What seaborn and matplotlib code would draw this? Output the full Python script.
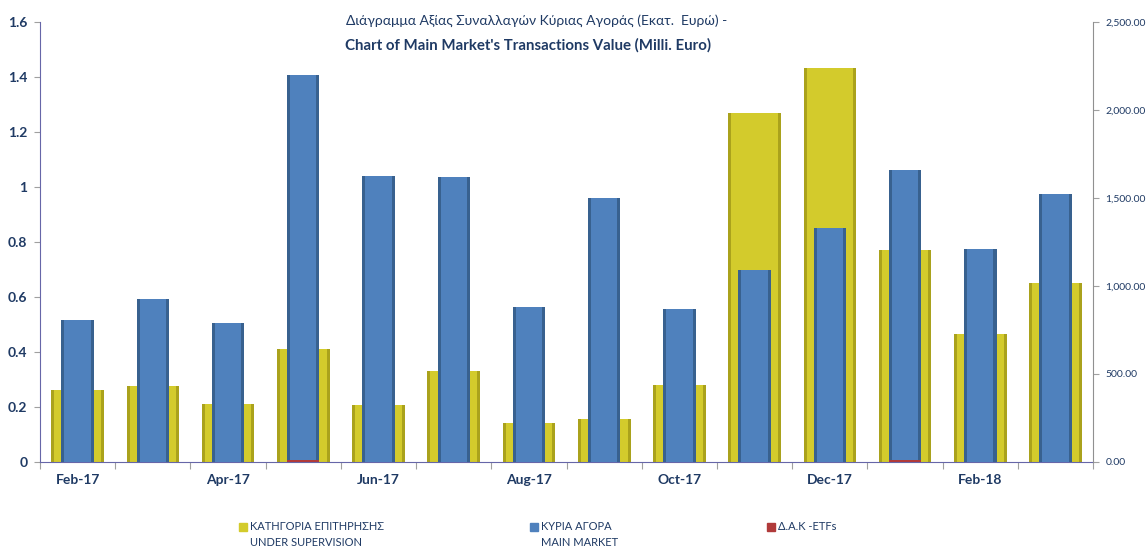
import matplotlib
matplotlib.use("Agg")
import matplotlib.pyplot as plt
from matplotlib.lines import Line2D
from matplotlib.ticker import FuncFormatter
import numpy as np
import seaborn as sns

# μήνες
months = ['Feb-17', 'Mar-17', 'Apr-17', 'May-17', 'Jun-17', 'Jul-17', 'Aug-17',
          'Sep-17', 'Oct-17', 'Nov-17', 'Dec-17', 'Jan-18', 'Feb-18', 'Mar-18']
# κατηγορία επιτήρησης (αριστερός άξονας)
supervision = [0.263, 0.275, 0.212, 0.412, 0.207, 0.331, 0.141,
               0.155, 0.279, 1.270, 1.433, 0.771, 0.466, 0.649]
# κύρια αγορά (δεξιός άξονας)
main_market = [807, 928, 787, 2198, 1625, 1618, 880,
               1497, 872, 1090, 1328, 1658, 1210, 1522]
# ETFs
etfs = [1, 1, 1, 12, 1, 1, 1, 1, 1, 1, 1, 12, 1, 1]

labels_gr = ['ΚΑΤΗΓΟΡΙΑ ΕΠΙΤΗΡΗΣΗΣ', 'ΚΥΡΙΑ ΑΓΟΡΑ', 'Δ.Α.Κ -ETFs']
labels_en = ['UNDER SUPERVISION', 'MAIN MARKET', '']

navy = '#1f3a64'
yellow = '#d3cb2c'
yellow_dark = '#aaa21c'
blue = '#4f81bd'
blue_dark = '#38618f'
red = '#b03a3a'

sns.set_style('white')
plt.rcParams['font.family'] = ['Lato', 'Open Sans', 'DejaVu Sans']

fig = plt.figure(figsize=(11.46, 5.49), dpi=100)
ax = fig.add_axes([0.0349, 0.1585, 0.919, 0.8015])
ax2 = ax.twinx()

# κίτρινες μπάρες με σκίαση στις άκρες
sns.barplot(x=months, y=supervision, order=months, ax=ax, color=yellow_dark, width=0.70,
            saturation=1, linewidth=0)
sns.barplot(x=months, y=supervision, order=months, ax=ax, color=yellow, width=0.62,
            saturation=1, linewidth=0)
# μπλε μπάρες
sns.barplot(x=months, y=main_market, order=months, ax=ax2, color=blue_dark, width=0.43,
            saturation=1, linewidth=0)
sns.barplot(x=months, y=main_market, order=months, ax=ax2, color=blue, width=0.35,
            saturation=1, linewidth=0)
sns.barplot(x=months, y=etfs, order=months, ax=ax2, color=red, width=0.43,
            saturation=1, linewidth=0)

ax.set_xlim(-0.5, len(months) - 0.5)
ax.set_ylim(0, 1.6)
ax2.set_ylim(0, 2500)
ax.set_yticks(np.arange(0, 1.61, 0.2))
ax.yaxis.set_major_formatter(FuncFormatter(lambda v, p: f'{v:.1f}'.rstrip('0').rstrip('.') if v else '0'))
ax2.set_yticks(np.arange(0, 2501, 500))
ax2.yaxis.set_major_formatter(FuncFormatter(lambda v, p: f'{v:,.2f}'))

ax.set_xticks(range(0, len(months), 2))
ax.set_xticklabels(months[::2])
ax.set_xticks(np.arange(-0.5, len(months), 1), minor=True)
ax.tick_params(axis='x', which='major', length=0, pad=9, labelsize=10, labelcolor=navy)
ax.tick_params(axis='x', which='minor', length=5, color='#a0a0a0', width=0.8, bottom=True)
ax.tick_params(axis='y', length=4, color='#a0a0a0', labelsize=10, labelcolor=navy, left=True, pad=5)
ax2.tick_params(axis='y', length=4, color='#a0a0a0', labelsize=7.5, labelcolor=navy, right=True, pad=5)
for t in ax.get_xticklabels() + ax.get_yticklabels():
    t.set_fontweight('bold')

for a in (ax, ax2):
    a.set_xlabel('')
    a.set_ylabel('')
    a.spines['top'].set_visible(False)
ax.spines['left'].set_color('#6666a8')
ax.spines['bottom'].set_color('#6666a8')
ax.spines['right'].set_visible(False)
ax2.spines['left'].set_visible(False)
ax2.spines['bottom'].set_visible(False)
ax2.spines['right'].set_color('#909090')

fig.text(0.4686, 0.962, 'Διάγραμμα Αξίας Συναλλαγών Κύριας Αγοράς (Εκατ.  Ευρώ) -',
         ha='center', va='center', fontsize=10, color=navy)
fig.text(0.4607, 0.918, "Chart of Main Market's Transactions Value (Milli. Euro)",
         ha='center', va='center', fontsize=10.8, color=navy, fontweight='bold')

# υπόμνημα: μία καταχώρηση ανά θέση, η δεύτερη γραμμή ως κείμενο από κάτω
for gr, en, c, xm in zip(labels_gr, labels_en, (yellow, blue, red), (243, 534, 771)):
    h = Line2D([], [], marker='s', ls='', markersize=6, markerfacecolor=c, markeredgecolor=c)
    fig.legend([h], [gr], loc='center left', bbox_to_anchor=((xm - 4.4) / 1146, 1 - 527 / 549),
               frameon=False, fontsize=8, handletextpad=0.2, handlelength=0.8,
               labelcolor=navy, borderpad=0, borderaxespad=0)
    if en:
        fig.text((xm + 7) / 1146, 1 - 542 / 549, en, ha='left', va='center',
                 fontsize=8, color=navy)

fig.savefig('out.png', dpi=100)
